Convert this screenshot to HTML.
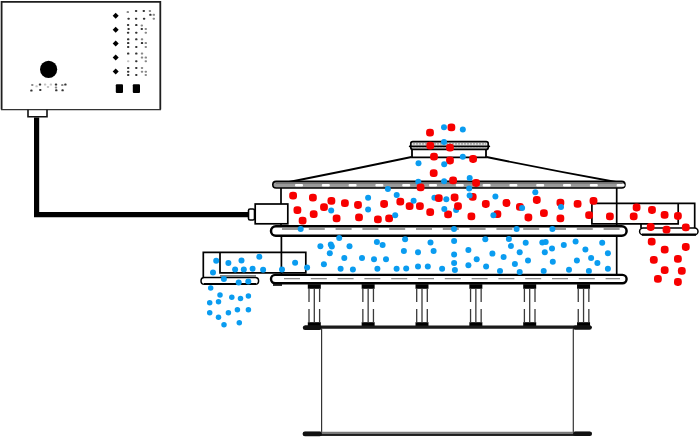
<!DOCTYPE html>
<html><head><meta charset="utf-8"><style>
html,body{margin:0;padding:0;background:#fff;width:700px;height:441px;overflow:hidden;font-family:"Liberation Sans",sans-serif;}
svg{display:block;position:absolute;left:0;top:0}
</style></head><body>
<svg width="700" height="441" viewBox="0 0 700 441">
<path d="M1.6 109.6 V1.9 H160.3 V109.6" fill="none" stroke="#1e1e1e" stroke-width="1.8"/>
<path d="M1 109.6 H161" fill="none" stroke="#333" stroke-width="1.1"/>
<path d="M28 109.8 V116.8 H47 V109.8" fill="none" stroke="#111" stroke-width="1.6"/>
<path d="M36.6 117.5 V214.7 H249" fill="none" stroke="#000" stroke-width="5.2"/>
<circle cx="48.6" cy="69.3" r="8.6" fill="#000"/>
<path d="M115.7 12.7 L118.7 15.7 L115.7 18.7 L112.7 15.7 Z" fill="#000"/>
<path d="M115.7 26.65 L118.7 29.65 L115.7 32.65 L112.7 29.65 Z" fill="#000"/>
<path d="M115.7 40.599999999999994 L118.7 43.599999999999994 L115.7 46.599999999999994 L112.7 43.599999999999994 Z" fill="#000"/>
<path d="M115.7 54.55 L118.7 57.55 L115.7 60.55 L112.7 57.55 Z" fill="#000"/>
<path d="M115.7 68.5 L118.7 71.5 L115.7 74.5 L112.7 71.5 Z" fill="#000"/>
<rect x="115.8" y="84.3" width="7.2" height="8.6" rx="1" fill="#000"/>
<rect x="132.8" y="84.3" width="7.2" height="8.6" rx="1" fill="#000"/>
<rect x="126.6" y="11.1" width="2.4" height="2" rx="0.9" fill="#888"/>
<rect x="127.39999999999999" y="17.7" width="2.4" height="2" rx="0.9" fill="#333"/>
<rect x="134.9" y="9.9" width="2.4" height="2" rx="0.9" fill="#333"/>
<rect x="134.9" y="17.7" width="2.4" height="2" rx="0.9" fill="#333"/>
<rect x="142.60000000000002" y="9.9" width="2.4" height="2" rx="0.9" fill="#333"/>
<rect x="142.9" y="17.7" width="2.4" height="2" rx="0.9" fill="#333"/>
<rect x="148.70000000000002" y="9.9" width="2.4" height="2" rx="0.9" fill="#888"/>
<rect x="149.20000000000002" y="13.8" width="2.4" height="2" rx="0.9" fill="#333"/>
<rect x="152.60000000000002" y="13.8" width="2.4" height="2" rx="0.9" fill="#888"/>
<rect x="152.60000000000002" y="17.7" width="2.4" height="2" rx="0.9" fill="#888"/>
<rect x="126.89999999999999" y="24" width="2.4" height="2" rx="0.9" fill="#333"/>
<rect x="127.39999999999999" y="28" width="2.4" height="2" rx="0.9" fill="#333"/>
<rect x="126.89999999999999" y="31.700000000000003" width="2.4" height="2" rx="0.9" fill="#333"/>
<rect x="135.10000000000002" y="24.1" width="2.4" height="2" rx="0.9" fill="#333"/>
<rect x="135.10000000000002" y="31.700000000000003" width="2.4" height="2" rx="0.9" fill="#333"/>
<rect x="140.60000000000002" y="24.4" width="2.4" height="2" rx="0.9" fill="#888"/>
<rect x="140.60000000000002" y="28" width="2.4" height="2" rx="0.9" fill="#333"/>
<rect x="144.60000000000002" y="28" width="2.4" height="2" rx="0.9" fill="#888"/>
<rect x="144.60000000000002" y="31.700000000000003" width="2.4" height="2" rx="0.9" fill="#888"/>
<rect x="126.99999999999999" y="38.3" width="2.4" height="2" rx="0.9" fill="#333"/>
<rect x="126.99999999999999" y="42.1" width="2.4" height="2" rx="0.9" fill="#333"/>
<rect x="126.99999999999999" y="46" width="2.4" height="2" rx="0.9" fill="#333"/>
<rect x="135.10000000000002" y="38.3" width="2.4" height="2" rx="0.9" fill="#333"/>
<rect x="135.10000000000002" y="46" width="2.4" height="2" rx="0.9" fill="#333"/>
<rect x="140.8" y="38.3" width="2.4" height="2" rx="0.9" fill="#888"/>
<rect x="140.8" y="42.1" width="2.4" height="2" rx="0.9" fill="#333"/>
<rect x="144.60000000000002" y="42.1" width="2.4" height="2" rx="0.9" fill="#888"/>
<rect x="144.60000000000002" y="46" width="2.4" height="2" rx="0.9" fill="#888"/>
<rect x="126.99999999999999" y="52.6" width="2.4" height="2" rx="0.9" fill="#333"/>
<rect x="126.99999999999999" y="60.2" width="2.4" height="2" rx="0.9" fill="#c4c4c4"/>
<rect x="135.10000000000002" y="52.6" width="2.4" height="2" rx="0.9" fill="#333"/>
<rect x="135.10000000000002" y="60.2" width="2.4" height="2" rx="0.9" fill="#333"/>
<rect x="140.8" y="52.6" width="2.4" height="2" rx="0.9" fill="#888"/>
<rect x="140.8" y="56.6" width="2.4" height="2" rx="0.9" fill="#888"/>
<rect x="144.60000000000002" y="56.6" width="2.4" height="2" rx="0.9" fill="#888"/>
<rect x="144.60000000000002" y="60.2" width="2.4" height="2" rx="0.9" fill="#888"/>
<rect x="126.99999999999999" y="66.9" width="2.4" height="2" rx="0.9" fill="#333"/>
<rect x="126.99999999999999" y="70.7" width="2.4" height="2" rx="0.9" fill="#333"/>
<rect x="126.99999999999999" y="74" width="2.4" height="2" rx="0.9" fill="#333"/>
<rect x="135.10000000000002" y="66.9" width="2.4" height="2" rx="0.9" fill="#333"/>
<rect x="135.10000000000002" y="74" width="2.4" height="2" rx="0.9" fill="#333"/>
<rect x="140.8" y="66.9" width="2.4" height="2" rx="0.9" fill="#888"/>
<rect x="140.8" y="70.7" width="2.4" height="2" rx="0.9" fill="#888"/>
<rect x="144.60000000000002" y="70.7" width="2.4" height="2" rx="0.9" fill="#888"/>
<rect x="144.60000000000002" y="74" width="2.4" height="2" rx="0.9" fill="#888"/>
<rect x="31.099999999999998" y="83.9" width="2.4" height="2" rx="0.9" fill="#888"/>
<rect x="30.2" y="89.6" width="2.4" height="2" rx="0.9" fill="#333"/>
<rect x="35.4" y="85.3" width="2.4" height="2" rx="0.9" fill="#c4c4c4"/>
<rect x="38.8" y="83.6" width="2.4" height="2" rx="0.9" fill="#333"/>
<rect x="39.099999999999994" y="89" width="2.4" height="2" rx="0.9" fill="#333"/>
<rect x="43.9" y="83.6" width="2.4" height="2" rx="0.9" fill="#c4c4c4"/>
<rect x="46.8" y="85.9" width="2.4" height="2" rx="0.9" fill="#c4c4c4"/>
<rect x="49.699999999999996" y="83.6" width="2.4" height="2" rx="0.9" fill="#c4c4c4"/>
<rect x="54.8" y="83.6" width="2.4" height="2" rx="0.9" fill="#333"/>
<rect x="54.8" y="86.4" width="2.4" height="2" rx="0.9" fill="#888"/>
<rect x="55.099999999999994" y="89.3" width="2.4" height="2" rx="0.9" fill="#333"/>
<rect x="61.099999999999994" y="84.1" width="2.4" height="2" rx="0.9" fill="#888"/>
<rect x="64.2" y="83.6" width="2.4" height="2" rx="0.9" fill="#333"/>
<rect x="61.4" y="89.3" width="2.4" height="2" rx="0.9" fill="#333"/>
<path d="M289 182 Q350 170 411.5 157 M486.5 157 Q550 170 616 182" fill="none" stroke="#000" stroke-width="1.8"/>
<path d="M412 149 V157.3 H486 V149" fill="#fff" stroke="#000" stroke-width="1.8"/>
<rect x="410.8" y="141.6" width="77.4" height="7.8" rx="2" fill="#e0e0e0" stroke="#000" stroke-width="1.7"/>
<path d="M409.6 146.4 H489.4" stroke="#000" stroke-width="1.6" stroke-linecap="round"/>
<path d="M413 143.9 H486 M413 148.2 H486" stroke="#777" stroke-width="0.9" stroke-dasharray="2 1"/>
<path d="M281 188 V226 M616.7 188 V226" stroke="#000" stroke-width="1.7"/>
<path d="M281.4 236 V274.5 M616.7 236 V274.5" stroke="#000" stroke-width="1.7"/>
<rect x="272.8" y="181.4" width="352.2" height="6.6" rx="3.3" fill="#9a9a9a" stroke="#000" stroke-width="1.6"/>
<path d="M276 183.3 H622" stroke="#555" stroke-width="0.6"/>
<rect x="295.0" y="184" width="8" height="2.4" rx="1" fill="#fff"/>
<rect x="321.8" y="184" width="8" height="2.4" rx="1" fill="#fff"/>
<rect x="348.6" y="184" width="8" height="2.4" rx="1" fill="#fff"/>
<rect x="375.4" y="184" width="8" height="2.4" rx="1" fill="#fff"/>
<rect x="402.2" y="184" width="8" height="2.4" rx="1" fill="#fff"/>
<rect x="429.0" y="184" width="8" height="2.4" rx="1" fill="#fff"/>
<rect x="455.8" y="184" width="8" height="2.4" rx="1" fill="#fff"/>
<rect x="482.6" y="184" width="8" height="2.4" rx="1" fill="#fff"/>
<rect x="509.4" y="184" width="8" height="2.4" rx="1" fill="#fff"/>
<rect x="536.2" y="184" width="8" height="2.4" rx="1" fill="#fff"/>
<rect x="563.0" y="184" width="8" height="2.4" rx="1" fill="#fff"/>
<rect x="589.8" y="184" width="8" height="2.4" rx="1" fill="#fff"/>
<rect x="616.6" y="184" width="8" height="2.4" rx="1" fill="#fff"/>
<rect x="271" y="226.2" width="355.6" height="9.6" rx="4.8" fill="#fff" stroke="#000" stroke-width="2.5"/>
<path d="M282 229 H620" stroke="#777" stroke-width="1.4" stroke-dasharray="16 10.8"/>
<rect x="271" y="274.9" width="355.6" height="8.4" rx="4.2" fill="#fff" stroke="#000" stroke-width="2.4"/>
<path d="M284 278.6 H620" stroke="#888" stroke-width="1.2" stroke-dasharray="16 10.8"/>
<path d="M273 285 H282" stroke="#000" stroke-width="1.6"/>
<rect x="307.8" y="284.2" width="13" height="4.6" fill="#000"/>
<rect x="307.8" y="322.2" width="13" height="4" fill="#000"/>
<path d="M309.0 288.5 V302 M309.0 309 V322.5" stroke="#3a3a3a" stroke-width="1.3"/>
<path d="M319.6 288.5 V302 M319.6 309 V322.5" stroke="#3a3a3a" stroke-width="1.3"/>
<path d="M314.3 288.5 V322.5" stroke="#3a3a3a" stroke-width="1.3"/>
<rect x="361.65000000000003" y="284.2" width="13" height="4.6" fill="#000"/>
<rect x="361.65000000000003" y="322.2" width="13" height="4" fill="#000"/>
<path d="M362.85 288.5 V302 M362.85 309 V322.5" stroke="#3a3a3a" stroke-width="1.3"/>
<path d="M373.45000000000005 288.5 V302 M373.45000000000005 309 V322.5" stroke="#3a3a3a" stroke-width="1.3"/>
<path d="M368.15000000000003 288.5 V322.5" stroke="#3a3a3a" stroke-width="1.3"/>
<rect x="415.5" y="284.2" width="13" height="4.6" fill="#000"/>
<rect x="415.5" y="322.2" width="13" height="4" fill="#000"/>
<path d="M416.7 288.5 V302 M416.7 309 V322.5" stroke="#3a3a3a" stroke-width="1.3"/>
<path d="M427.3 288.5 V302 M427.3 309 V322.5" stroke="#3a3a3a" stroke-width="1.3"/>
<path d="M422.0 288.5 V322.5" stroke="#3a3a3a" stroke-width="1.3"/>
<rect x="469.35" y="284.2" width="13" height="4.6" fill="#000"/>
<rect x="469.35" y="322.2" width="13" height="4" fill="#000"/>
<path d="M470.55 288.5 V302 M470.55 309 V322.5" stroke="#3a3a3a" stroke-width="1.3"/>
<path d="M481.15000000000003 288.5 V302 M481.15000000000003 309 V322.5" stroke="#3a3a3a" stroke-width="1.3"/>
<path d="M475.85 288.5 V322.5" stroke="#3a3a3a" stroke-width="1.3"/>
<rect x="523.2" y="284.2" width="13" height="4.6" fill="#000"/>
<rect x="523.2" y="322.2" width="13" height="4" fill="#000"/>
<path d="M524.4000000000001 288.5 V302 M524.4000000000001 309 V322.5" stroke="#3a3a3a" stroke-width="1.3"/>
<path d="M535.0 288.5 V302 M535.0 309 V322.5" stroke="#3a3a3a" stroke-width="1.3"/>
<path d="M529.7 288.5 V322.5" stroke="#3a3a3a" stroke-width="1.3"/>
<rect x="577.05" y="284.2" width="13" height="4.6" fill="#000"/>
<rect x="577.05" y="322.2" width="13" height="4" fill="#000"/>
<path d="M578.25 288.5 V302 M578.25 309 V322.5" stroke="#3a3a3a" stroke-width="1.3"/>
<path d="M588.8499999999999 288.5 V302 M588.8499999999999 309 V322.5" stroke="#3a3a3a" stroke-width="1.3"/>
<path d="M583.55 288.5 V322.5" stroke="#3a3a3a" stroke-width="1.3"/>
<rect x="303.6" y="325.6" width="288" height="3.2" rx="1.6" fill="#1a1a1a"/>
<rect x="302.8" y="325.4" width="19" height="4.6" rx="2.3" fill="#111"/>
<rect x="573" y="325.4" width="18.8" height="4.4" rx="2.2" fill="#111"/>
<path d="M321.6 329 V432 M573.3 329 V432" stroke="#333" stroke-width="1.2"/>
<rect x="302.8" y="431.8" width="289" height="4" rx="2" fill="#7a7a7a"/>
<path d="M304 435 H590" stroke="#000" stroke-width="1.6"/>
<rect x="302.6" y="431.6" width="19.4" height="4.6" rx="2.3" fill="#111"/>
<rect x="573" y="431.4" width="19" height="4.6" rx="2.3" fill="#111"/>
<rect x="248.5" y="209" width="6" height="11" rx="1.5" fill="#fff" stroke="#000" stroke-width="1.6"/>
<rect x="255.2" y="204" width="32.6" height="19.8" fill="#fff" stroke="#000" stroke-width="1.7"/>
<path d="M591.9 203.3 H694.7 V228 M591.9 203.3 V223.8 H678.2 V203.3 M641 224 V228" fill="none" stroke="#000" stroke-width="1.7"/>
<rect x="639.6" y="228" width="58.4" height="6.8" rx="3.4" fill="#fff" stroke="#000" stroke-width="1.5"/>
<path d="M642 234.6 H696" stroke="#000" stroke-width="2.2"/>
<path d="M203.3 277.5 V252.3 H305.8 V272.8 H220 V252.3" fill="none" stroke="#000" stroke-width="1.7"/>
<path d="M220 275.9 H256" stroke="#333" stroke-width="1"/>
<rect x="201" y="277.6" width="57.6" height="6.6" rx="3.3" fill="#fff" stroke="#000" stroke-width="1.5"/>
<path d="M204 284 H256" stroke="#000" stroke-width="2.2"/>
<circle cx="418.3" cy="181.8" r="3.0" fill="#0a9cf0"/>
<circle cx="434.4" cy="197.8" r="3.0" fill="#0a9cf0"/>
<circle cx="456.1" cy="209.9" r="3.0" fill="#0a9cf0"/>
<rect x="426.1" y="128.79999999999998" width="7.8" height="7.8" rx="3.3" fill="#f70000"/>
<rect x="447.5" y="123.39999999999999" width="7.8" height="7.8" rx="3.3" fill="#f70000"/>
<rect x="426.40000000000003" y="141.7" width="7.8" height="7.8" rx="3.3" fill="#f70000"/>
<rect x="446.1" y="143.7" width="7.8" height="7.8" rx="3.3" fill="#f70000"/>
<rect x="430.1" y="152.79999999999998" width="7.8" height="7.8" rx="3.3" fill="#f70000"/>
<rect x="446.1" y="156.6" width="7.8" height="7.8" rx="3.3" fill="#f70000"/>
<rect x="469.20000000000005" y="155.1" width="7.8" height="7.8" rx="3.3" fill="#f70000"/>
<rect x="429.8" y="169.2" width="7.8" height="7.8" rx="3.3" fill="#f70000"/>
<rect x="449.20000000000005" y="176.4" width="7.8" height="7.8" rx="3.3" fill="#f70000"/>
<rect x="472.20000000000005" y="179.1" width="7.8" height="7.8" rx="3.3" fill="#f70000"/>
<rect x="416.70000000000005" y="183.4" width="7.8" height="7.8" rx="3.3" fill="#f70000"/>
<rect x="434.90000000000003" y="194.29999999999998" width="7.8" height="7.8" rx="3.3" fill="#f70000"/>
<rect x="450.70000000000005" y="193.6" width="7.8" height="7.8" rx="3.3" fill="#f70000"/>
<rect x="468.8" y="192.9" width="7.8" height="7.8" rx="3.3" fill="#f70000"/>
<rect x="396.40000000000003" y="197.79999999999998" width="7.8" height="7.8" rx="3.3" fill="#f70000"/>
<rect x="289.20000000000005" y="191.79999999999998" width="7.8" height="7.8" rx="3.3" fill="#f70000"/>
<rect x="309.0" y="193.79999999999998" width="7.8" height="7.8" rx="3.3" fill="#f70000"/>
<rect x="327.5" y="196.9" width="7.8" height="7.8" rx="3.3" fill="#f70000"/>
<rect x="341.0" y="199.2" width="7.8" height="7.8" rx="3.3" fill="#f70000"/>
<rect x="354.1" y="201.1" width="7.8" height="7.8" rx="3.3" fill="#f70000"/>
<rect x="293.5" y="206.2" width="7.8" height="7.8" rx="3.3" fill="#f70000"/>
<rect x="320.1" y="203.2" width="7.8" height="7.8" rx="3.3" fill="#f70000"/>
<rect x="309.8" y="210.2" width="7.8" height="7.8" rx="3.3" fill="#f70000"/>
<rect x="298.70000000000005" y="216.7" width="7.8" height="7.8" rx="3.3" fill="#f70000"/>
<rect x="332.70000000000005" y="214.4" width="7.8" height="7.8" rx="3.3" fill="#f70000"/>
<rect x="355.1" y="213.5" width="7.8" height="7.8" rx="3.3" fill="#f70000"/>
<rect x="380.20000000000005" y="200.1" width="7.8" height="7.8" rx="3.3" fill="#f70000"/>
<rect x="374.0" y="215.5" width="7.8" height="7.8" rx="3.3" fill="#f70000"/>
<rect x="385.20000000000005" y="214.4" width="7.8" height="7.8" rx="3.3" fill="#f70000"/>
<rect x="405.70000000000005" y="202.2" width="7.8" height="7.8" rx="3.3" fill="#f70000"/>
<rect x="416.0" y="202.2" width="7.8" height="7.8" rx="3.3" fill="#f70000"/>
<rect x="426.3" y="208.29999999999998" width="7.8" height="7.8" rx="3.3" fill="#f70000"/>
<rect x="454.1" y="202.2" width="7.8" height="7.8" rx="3.3" fill="#f70000"/>
<rect x="444.20000000000005" y="210.4" width="7.8" height="7.8" rx="3.3" fill="#f70000"/>
<rect x="467.5" y="212.4" width="7.8" height="7.8" rx="3.3" fill="#f70000"/>
<rect x="481.90000000000003" y="200.1" width="7.8" height="7.8" rx="3.3" fill="#f70000"/>
<rect x="502.6" y="199.1" width="7.8" height="7.8" rx="3.3" fill="#f70000"/>
<rect x="493.5" y="210.2" width="7.8" height="7.8" rx="3.3" fill="#f70000"/>
<rect x="516.0" y="203.0" width="7.8" height="7.8" rx="3.3" fill="#f70000"/>
<rect x="532.9" y="196.1" width="7.8" height="7.8" rx="3.3" fill="#f70000"/>
<rect x="524.5" y="213.6" width="7.8" height="7.8" rx="3.3" fill="#f70000"/>
<rect x="540.0" y="209.2" width="7.8" height="7.8" rx="3.3" fill="#f70000"/>
<rect x="556.5" y="198.7" width="7.8" height="7.8" rx="3.3" fill="#f70000"/>
<rect x="556.5" y="214.4" width="7.8" height="7.8" rx="3.3" fill="#f70000"/>
<rect x="573.7" y="199.9" width="7.8" height="7.8" rx="3.3" fill="#f70000"/>
<rect x="589.6" y="197.0" width="7.8" height="7.8" rx="3.3" fill="#f70000"/>
<rect x="585.2" y="211.29999999999998" width="7.8" height="7.8" rx="3.3" fill="#f70000"/>
<rect x="606.0" y="212.4" width="7.8" height="7.8" rx="3.3" fill="#f70000"/>
<rect x="632.7" y="203.6" width="7.8" height="7.8" rx="3.3" fill="#f70000"/>
<rect x="629.8000000000001" y="212.4" width="7.8" height="7.8" rx="3.3" fill="#f70000"/>
<rect x="648.1" y="206.1" width="7.8" height="7.8" rx="3.3" fill="#f70000"/>
<rect x="646.8000000000001" y="223.1" width="7.8" height="7.8" rx="3.3" fill="#f70000"/>
<rect x="660.7" y="211.0" width="7.8" height="7.8" rx="3.3" fill="#f70000"/>
<rect x="674.0" y="212.1" width="7.8" height="7.8" rx="3.3" fill="#f70000"/>
<rect x="662.6" y="225.7" width="7.8" height="7.8" rx="3.3" fill="#f70000"/>
<rect x="681.9" y="223.4" width="7.8" height="7.8" rx="3.3" fill="#f70000"/>
<rect x="647.8000000000001" y="237.7" width="7.8" height="7.8" rx="3.3" fill="#f70000"/>
<rect x="660.8000000000001" y="245.79999999999998" width="7.8" height="7.8" rx="3.3" fill="#f70000"/>
<rect x="681.9" y="243.1" width="7.8" height="7.8" rx="3.3" fill="#f70000"/>
<rect x="649.9" y="255.99999999999997" width="7.8" height="7.8" rx="3.3" fill="#f70000"/>
<rect x="674.0" y="254.9" width="7.8" height="7.8" rx="3.3" fill="#f70000"/>
<rect x="660.8000000000001" y="266.20000000000005" width="7.8" height="7.8" rx="3.3" fill="#f70000"/>
<rect x="677.9" y="266.90000000000003" width="7.8" height="7.8" rx="3.3" fill="#f70000"/>
<rect x="654.0" y="275.0" width="7.8" height="7.8" rx="3.3" fill="#f70000"/>
<rect x="674.0" y="278.1" width="7.8" height="7.8" rx="3.3" fill="#f70000"/>
<circle cx="444" cy="127.3" r="3.0" fill="#0a9cf0"/>
<circle cx="462.8" cy="129.6" r="3.0" fill="#0a9cf0"/>
<circle cx="444" cy="141.9" r="3.0" fill="#0a9cf0"/>
<circle cx="462.8" cy="156.7" r="3.0" fill="#0a9cf0"/>
<circle cx="418.5" cy="163.3" r="3.0" fill="#0a9cf0"/>
<circle cx="444.2" cy="164.2" r="3.0" fill="#0a9cf0"/>
<circle cx="469.7" cy="177.9" r="3.0" fill="#0a9cf0"/>
<circle cx="444.1" cy="181.2" r="3.0" fill="#0a9cf0"/>
<circle cx="469.2" cy="188.5" r="3.0" fill="#0a9cf0"/>
<circle cx="469.6" cy="195.5" r="3.0" fill="#0a9cf0"/>
<circle cx="446.3" cy="199.2" r="3.0" fill="#0a9cf0"/>
<circle cx="413.6" cy="200.8" r="3.0" fill="#0a9cf0"/>
<circle cx="331.2" cy="210.6" r="3.0" fill="#0a9cf0"/>
<circle cx="300.7" cy="229" r="3.0" fill="#0a9cf0"/>
<circle cx="368.1" cy="197.7" r="3.0" fill="#0a9cf0"/>
<circle cx="368.1" cy="209.5" r="3.0" fill="#0a9cf0"/>
<circle cx="387.9" cy="188.9" r="3.0" fill="#0a9cf0"/>
<circle cx="396.7" cy="194.9" r="3.0" fill="#0a9cf0"/>
<circle cx="395.2" cy="215.2" r="3.0" fill="#0a9cf0"/>
<circle cx="444.3" cy="209.1" r="3.0" fill="#0a9cf0"/>
<circle cx="495.4" cy="196.6" r="3.0" fill="#0a9cf0"/>
<circle cx="493.4" cy="215.2" r="3.0" fill="#0a9cf0"/>
<circle cx="454" cy="229" r="3.0" fill="#0a9cf0"/>
<circle cx="535.3" cy="192.3" r="3.0" fill="#0a9cf0"/>
<circle cx="522.1" cy="208" r="3.0" fill="#0a9cf0"/>
<circle cx="561" cy="206.9" r="3.0" fill="#0a9cf0"/>
<circle cx="516.6" cy="229" r="3.0" fill="#0a9cf0"/>
<circle cx="552.4" cy="229" r="3.0" fill="#0a9cf0"/>
<circle cx="339.2" cy="238" r="3.0" fill="#0a9cf0"/>
<circle cx="320.4" cy="246.3" r="3.0" fill="#0a9cf0"/>
<circle cx="330.8" cy="244.6" r="3.0" fill="#0a9cf0"/>
<circle cx="331.8" cy="246.6" r="3.0" fill="#0a9cf0"/>
<circle cx="349.5" cy="246.3" r="3.0" fill="#0a9cf0"/>
<circle cx="329.8" cy="253.3" r="3.0" fill="#0a9cf0"/>
<circle cx="344.3" cy="258" r="3.0" fill="#0a9cf0"/>
<circle cx="295.1" cy="262.7" r="3.0" fill="#0a9cf0"/>
<circle cx="323.9" cy="264.2" r="3.0" fill="#0a9cf0"/>
<circle cx="307.1" cy="267.5" r="3.0" fill="#0a9cf0"/>
<circle cx="282" cy="269.6" r="3.0" fill="#0a9cf0"/>
<circle cx="340.6" cy="268.7" r="3.0" fill="#0a9cf0"/>
<circle cx="376.9" cy="242.1" r="3.0" fill="#0a9cf0"/>
<circle cx="382.6" cy="245" r="3.0" fill="#0a9cf0"/>
<circle cx="405.1" cy="239.3" r="3.0" fill="#0a9cf0"/>
<circle cx="430.5" cy="242.4" r="3.0" fill="#0a9cf0"/>
<circle cx="403.9" cy="251.1" r="3.0" fill="#0a9cf0"/>
<circle cx="418" cy="252.2" r="3.0" fill="#0a9cf0"/>
<circle cx="362" cy="258.1" r="3.0" fill="#0a9cf0"/>
<circle cx="374" cy="259.3" r="3.0" fill="#0a9cf0"/>
<circle cx="386" cy="259.3" r="3.0" fill="#0a9cf0"/>
<circle cx="352.9" cy="269.6" r="3.0" fill="#0a9cf0"/>
<circle cx="377.4" cy="268.7" r="3.0" fill="#0a9cf0"/>
<circle cx="396.6" cy="268.8" r="3.0" fill="#0a9cf0"/>
<circle cx="406.2" cy="268.4" r="3.0" fill="#0a9cf0"/>
<circle cx="418" cy="266.4" r="3.0" fill="#0a9cf0"/>
<circle cx="427.8" cy="266.5" r="3.0" fill="#0a9cf0"/>
<circle cx="454.1" cy="241" r="3.0" fill="#0a9cf0"/>
<circle cx="485.3" cy="239.3" r="3.0" fill="#0a9cf0"/>
<circle cx="433.6" cy="251.1" r="3.0" fill="#0a9cf0"/>
<circle cx="468.4" cy="249.9" r="3.0" fill="#0a9cf0"/>
<circle cx="454.1" cy="254.5" r="3.0" fill="#0a9cf0"/>
<circle cx="492.4" cy="253.6" r="3.0" fill="#0a9cf0"/>
<circle cx="503.6" cy="257" r="3.0" fill="#0a9cf0"/>
<circle cx="476.7" cy="259.3" r="3.0" fill="#0a9cf0"/>
<circle cx="454.1" cy="262.9" r="3.0" fill="#0a9cf0"/>
<circle cx="468.4" cy="265.2" r="3.0" fill="#0a9cf0"/>
<circle cx="486.1" cy="266.4" r="3.0" fill="#0a9cf0"/>
<circle cx="442.1" cy="268.7" r="3.0" fill="#0a9cf0"/>
<circle cx="454.9" cy="270.1" r="3.0" fill="#0a9cf0"/>
<circle cx="500" cy="271" r="3.0" fill="#0a9cf0"/>
<circle cx="508.9" cy="238.9" r="3.0" fill="#0a9cf0"/>
<circle cx="510.9" cy="246.1" r="3.0" fill="#0a9cf0"/>
<circle cx="525.7" cy="242.7" r="3.0" fill="#0a9cf0"/>
<circle cx="542.3" cy="242.4" r="3.0" fill="#0a9cf0"/>
<circle cx="545.7" cy="242.1" r="3.0" fill="#0a9cf0"/>
<circle cx="563.8" cy="245" r="3.0" fill="#0a9cf0"/>
<circle cx="575.6" cy="241.6" r="3.0" fill="#0a9cf0"/>
<circle cx="519.7" cy="252.2" r="3.0" fill="#0a9cf0"/>
<circle cx="544.8" cy="252.2" r="3.0" fill="#0a9cf0"/>
<circle cx="552" cy="248.4" r="3.0" fill="#0a9cf0"/>
<circle cx="528" cy="260.4" r="3.0" fill="#0a9cf0"/>
<circle cx="514.9" cy="264.1" r="3.0" fill="#0a9cf0"/>
<circle cx="552.8" cy="261.8" r="3.0" fill="#0a9cf0"/>
<circle cx="576.9" cy="260.4" r="3.0" fill="#0a9cf0"/>
<circle cx="519.7" cy="271.9" r="3.0" fill="#0a9cf0"/>
<circle cx="543.7" cy="270.9" r="3.0" fill="#0a9cf0"/>
<circle cx="569" cy="269.8" r="3.0" fill="#0a9cf0"/>
<circle cx="602.2" cy="242.7" r="3.0" fill="#0a9cf0"/>
<circle cx="585.4" cy="249.6" r="3.0" fill="#0a9cf0"/>
<circle cx="607.9" cy="253.3" r="3.0" fill="#0a9cf0"/>
<circle cx="591.1" cy="258.1" r="3.0" fill="#0a9cf0"/>
<circle cx="597.4" cy="262.9" r="3.0" fill="#0a9cf0"/>
<circle cx="607.9" cy="268.7" r="3.0" fill="#0a9cf0"/>
<circle cx="588.9" cy="270.9" r="3.0" fill="#0a9cf0"/>
<circle cx="216.2" cy="260.7" r="3.0" fill="#0a9cf0"/>
<circle cx="213" cy="272.6" r="3.0" fill="#0a9cf0"/>
<circle cx="228.4" cy="263" r="3.0" fill="#0a9cf0"/>
<circle cx="241.5" cy="260.4" r="3.0" fill="#0a9cf0"/>
<circle cx="259.3" cy="256.8" r="3.0" fill="#0a9cf0"/>
<circle cx="235.1" cy="269.4" r="3.0" fill="#0a9cf0"/>
<circle cx="243.8" cy="269.4" r="3.0" fill="#0a9cf0"/>
<circle cx="252.6" cy="268.8" r="3.0" fill="#0a9cf0"/>
<circle cx="263.1" cy="269.7" r="3.0" fill="#0a9cf0"/>
<circle cx="223.9" cy="279.1" r="3.0" fill="#0a9cf0"/>
<circle cx="238.7" cy="282.5" r="3.0" fill="#0a9cf0"/>
<circle cx="248.3" cy="281.6" r="3.0" fill="#0a9cf0"/>
<circle cx="210.7" cy="288" r="2.75" fill="#0a9cf0"/>
<circle cx="220" cy="295" r="2.75" fill="#0a9cf0"/>
<circle cx="231.8" cy="297.2" r="2.75" fill="#0a9cf0"/>
<circle cx="240.5" cy="298.5" r="2.75" fill="#0a9cf0"/>
<circle cx="248.4" cy="296" r="2.75" fill="#0a9cf0"/>
<circle cx="209.7" cy="302.7" r="2.75" fill="#0a9cf0"/>
<circle cx="218.5" cy="301.8" r="2.75" fill="#0a9cf0"/>
<circle cx="209.7" cy="312.7" r="2.75" fill="#0a9cf0"/>
<circle cx="228.4" cy="312.7" r="2.75" fill="#0a9cf0"/>
<circle cx="237.4" cy="309.7" r="2.75" fill="#0a9cf0"/>
<circle cx="248.4" cy="309.7" r="2.75" fill="#0a9cf0"/>
<circle cx="218.5" cy="317.2" r="2.75" fill="#0a9cf0"/>
<circle cx="224" cy="324.7" r="2.75" fill="#0a9cf0"/>
<circle cx="239.3" cy="322.7" r="2.75" fill="#0a9cf0"/>
</svg>
</body></html>
